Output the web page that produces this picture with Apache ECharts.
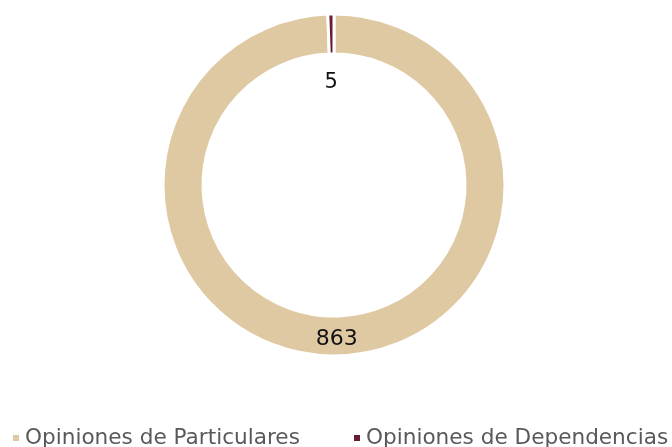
<!DOCTYPE html>
<html><head><meta charset="utf-8">
<script src="https://cdn.jsdelivr.net/npm/echarts@6/dist/echarts.min.js"></script>
<style>html,body{margin:0;padding:0;background:#fff}#c{width:672px;height:447px}</style>
</head><body><div id="c"></div>
<script>
var categories = ['Opiniones de Particulares', 'Opiniones de Dependencias'];
var values = [863, 5];
var colors = ['#DFC9A2', '#691C32'];
var chart = echarts.init(document.getElementById('c'), null, {renderer: 'canvas'});
var data = categories.map(function (n, i) {
  var d = {name: n, value: values[i], itemStyle: {color: colors[i]}};
  if (i === 1) d.label = {offset: [0, 52], fontSize: 21};
  return d;
});
var legendBase = {
  top: 427, padding: 0,
  icon: 'rect', itemWidth: 8, itemHeight: 8,
  textStyle: {fontFamily: 'DejaVu Sans', fontSize: 21.6, color: '#595959'}
};
chart.setOption({
  animation: false,
  legend: [
    Object.assign({}, legendBase, {data: [categories[0]], left: 11}),
    Object.assign({}, legendBase, {data: [categories[1]], left: 352})
  ],
  series: [{
    type: 'pie',
    center: [334, 185],
    radius: [131, 171],
    startAngle: 90,
    clockwise: true,
    itemStyle: {borderColor: '#fff', borderWidth: 3},
    label: {show: true, position: 'inside', formatter: '{c}', fontFamily: 'DejaVu Sans', fontSize: 22, color: '#111'},
    labelLine: {show: false},
    emphasis: {disabled: true},
    data: data
  }]
});
</script></body></html>
